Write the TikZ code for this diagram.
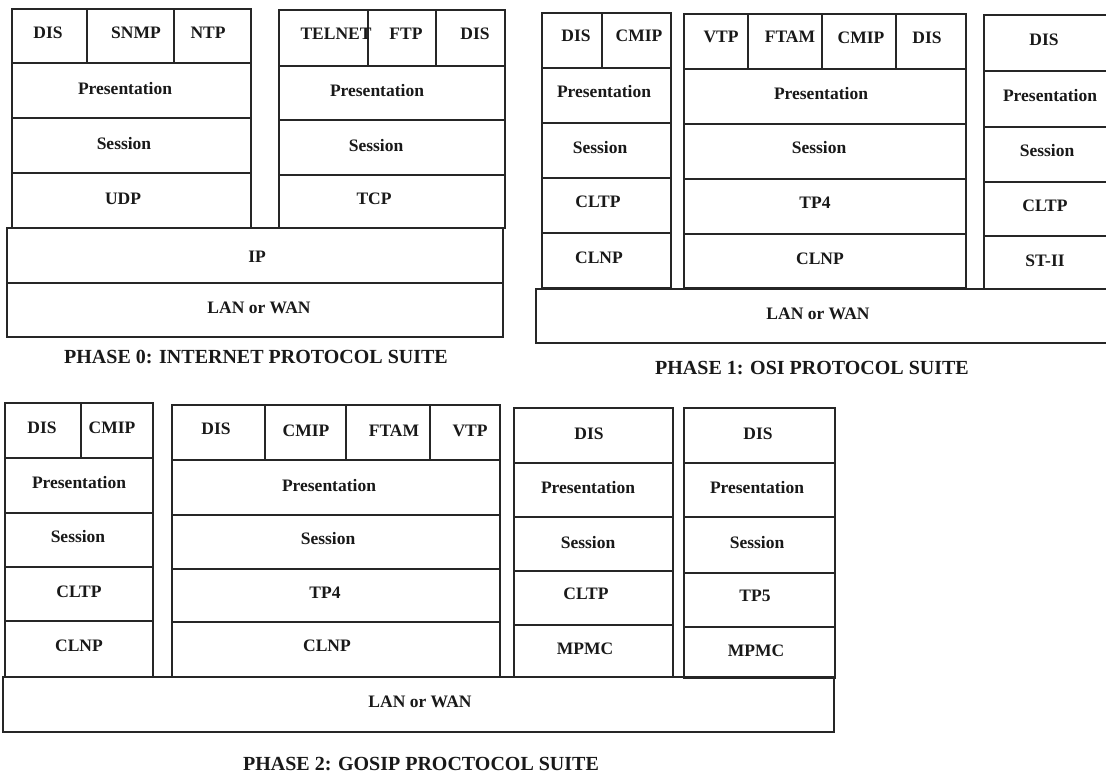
\documentclass[tikz,border=0pt]{standalone}
\usepackage{fontspec}
\setmainfont{Liberation Serif}
\begin{document}
\begin{tikzpicture}[x=1pt,y=-1pt,
  box/.style={draw=black!85, line width=1.4pt, line join=miter},
  sep/.style={draw=black!85, line width=1.4pt},
  lbl/.style={font=\fontsize{17.5}{18}\selectfont\bfseries, anchor=base, inner sep=0pt, text=black!90},
  captxt/.style={font=\fontsize{20}{22}\selectfont\bfseries, anchor=base, inner sep=0pt, text=black!90}]
\useasboundingbox (0,0) rectangle (1106,777);
\fill[white] (0,0) rectangle (1106,777);

% ---------------- PHASE 0 ----------------
\draw[box] (12,9) rectangle (251,228);
\draw[sep] (12,63) -- (251,63) (12,118) -- (251,118) (12,173) -- (251,173);
\draw[sep] (87,9) -- (87,63) (174,9) -- (174,63);
\draw[box] (279,10) rectangle (505,228);
\draw[sep] (279,66) -- (505,66) (279,120) -- (505,120) (279,175) -- (505,175);
\draw[sep] (368,10) -- (368,66) (436,10) -- (436,66);
\draw[box] (7,228) rectangle (503,283);
\draw[box] (7,283) rectangle (503,337);

\node[lbl] (p0dis) at (48,38) {DIS};
\node[lbl] (p0snmp) at (136,38) {SNMP};
\node[lbl] (p0ntp) at (208,38) {NTP};
\node[lbl] (p0pres) at (125,94) {Presentation};
\node[lbl] (p0sess) at (124,149) {Session};
\node[lbl] (p0udp) at (123,204) {UDP};
\node[lbl] (p0telnet) at (336,39) {TELNET};
\node[lbl] (p0ftp) at (406,39) {FTP};
\node[lbl] (p0dis2) at (475,39) {DIS};
\node[lbl] (p0pres2) at (377,96) {Presentation};
\node[lbl] (p0sess2) at (376,151) {Session};
\node[lbl] (p0tcp) at (374,204) {TCP};
\node[lbl] (p0ip) at (257,262) {IP};
\node[lbl] (p0lan) at (259,313) {LAN or WAN};
\node[captxt] (p0cap) at (256,363) {PHASE 0: INTERNET PROTOCOL SUITE};

% ---------------- PHASE 1 ----------------
\draw[box] (542,13) rectangle (671,288);
\draw[sep] (542,68) -- (671,68) (542,123) -- (671,123) (542,178) -- (671,178) (542,233) -- (671,233);
\draw[sep] (602,13) -- (602,68);
\draw[box] (684,14) rectangle (966,288);
\draw[sep] (684,69) -- (966,69) (684,124) -- (966,124) (684,179) -- (966,179) (684,234) -- (966,234);
\draw[sep] (748,14) -- (748,69) (822,14) -- (822,69) (896,14) -- (896,69);
\draw[box] (984,15) rectangle (1115,289);
\draw[sep] (984,71) -- (1115,71) (984,127) -- (1115,127) (984,182) -- (1115,182) (984,236) -- (1115,236);
\draw[box] (536,289) rectangle (1115,343);

\node[lbl] (p1dis) at (576,41) {DIS};
\node[lbl] (p1cmip) at (639,41) {CMIP};
\node[lbl] (p1pres) at (604,97) {Presentation};
\node[lbl] (p1sess) at (600,153) {Session};
\node[lbl] (p1cltp) at (598,207) {CLTP};
\node[lbl] (p1clnp) at (599,263) {CLNP};
\node[lbl] (p1vtp) at (721,42) {VTP};
\node[lbl] (p1ftam) at (790,42) {FTAM};
\node[lbl] (p1cmip2) at (861,43) {CMIP};
\node[lbl] (p1dis2) at (927,43) {DIS};
\node[lbl] (p1pres2) at (821,99) {Presentation};
\node[lbl] (p1sess2) at (819,153) {Session};
\node[lbl] (p1tp4) at (815,208) {TP4};
\node[lbl] (p1clnp2) at (820,264) {CLNP};
\node[lbl] (p1dis3) at (1044,45) {DIS};
\node[lbl] (p1pres3) at (1050,101) {Presentation};
\node[lbl] (p1sess3) at (1047,156) {Session};
\node[lbl] (p1cltp3) at (1045,211) {CLTP};
\node[lbl] (p1st) at (1045,266) {ST-II};
\node[lbl] (p1lan) at (818,319) {LAN or WAN};
\node[captxt] (p1cap) at (812,374) {PHASE 1: OSI PROTOCOL SUITE};

% ---------------- PHASE 2 ----------------
\draw[box] (5,403) rectangle (153,677);
\draw[sep] (5,458) -- (153,458) (5,513) -- (153,513) (5,567) -- (153,567) (5,621) -- (153,621);
\draw[sep] (81,403) -- (81,458);
\draw[box] (172,405) rectangle (500,677);
\draw[sep] (172,460) -- (500,460) (172,515) -- (500,515) (172,569) -- (500,569) (172,622) -- (500,622);
\draw[sep] (265,405) -- (265,460) (346,405) -- (346,460) (430,405) -- (430,460);
\draw[box] (514,408) rectangle (673,677);
\draw[sep] (514,463) -- (673,463) (514,517) -- (673,517) (514,571) -- (673,571) (514,625) -- (673,625);
\draw[box] (684,408) rectangle (835,678);
\draw[sep] (684,463) -- (835,463) (684,517) -- (835,517) (684,573) -- (835,573) (684,627) -- (835,627);
\draw[box] (3,677) rectangle (834,732);

\node[lbl] (p2dis) at (42,433) {DIS};
\node[lbl] (p2cmip) at (112,433) {CMIP};
\node[lbl] (p2pres) at (79,488) {Presentation};
\node[lbl] (p2sess) at (78,542) {Session};
\node[lbl] (p2cltp) at (79,597) {CLTP};
\node[lbl] (p2clnp) at (79,651) {CLNP};
\node[lbl] (p2dis2) at (216,434) {DIS};
\node[lbl] (p2cmip2) at (306,436) {CMIP};
\node[lbl] (p2ftam) at (394,436) {FTAM};
\node[lbl] (p2vtp) at (470,436) {VTP};
\node[lbl] (p2pres2) at (329,491) {Presentation};
\node[lbl] (p2sess2) at (328,544) {Session};
\node[lbl] (p2tp4) at (325,598) {TP4};
\node[lbl] (p2clnp2) at (327,651) {CLNP};
\node[lbl] (p2dis3) at (589,439) {DIS};
\node[lbl] (p2pres3) at (588,493) {Presentation};
\node[lbl] (p2sess3) at (588,548) {Session};
\node[lbl] (p2cltp3) at (586,599) {CLTP};
\node[lbl] (p2mpmc3) at (585,654) {MPMC};
\node[lbl] (p2dis4) at (758,439) {DIS};
\node[lbl] (p2pres4) at (757,493) {Presentation};
\node[lbl] (p2sess4) at (757,548) {Session};
\node[lbl] (p2tp5) at (755,601) {TP5};
\node[lbl] (p2mpmc4) at (756,656) {MPMC};
\node[lbl] (p2lan) at (420,707) {LAN or WAN};
\node[captxt] (p2cap) at (421,770) {PHASE 2: GOSIP PROCTOCOL SUITE};
\end{tikzpicture}
\end{document}
